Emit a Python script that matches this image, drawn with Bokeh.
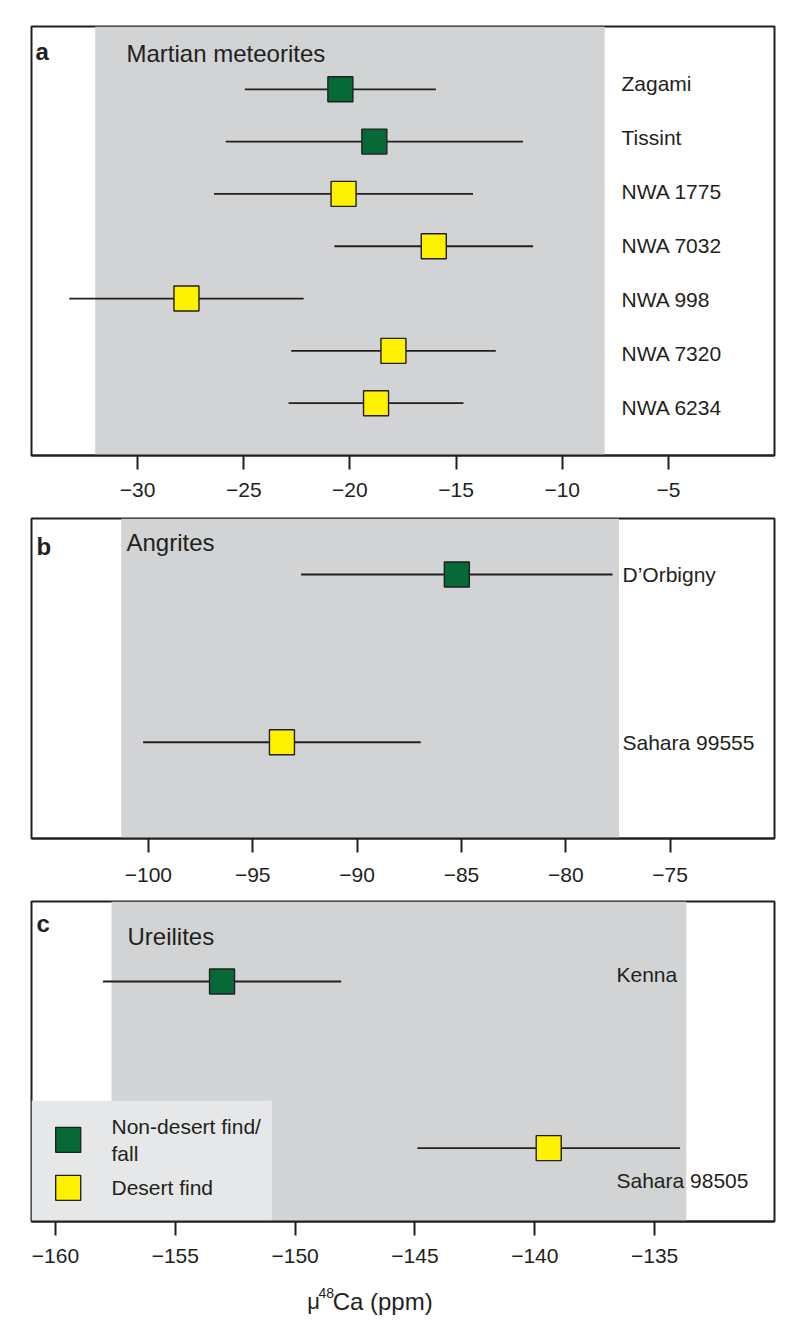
from bokeh.plotting import figure
from bokeh.models import FixedTicker, BoxAnnotation, ColumnDataSource, Range1d
from bokeh.layouts import column
from bokeh.embed import file_html
from bokeh.resources import INLINE
from bokeh.core.properties import value

# ---------------- data ----------------
mars_names = ["Zagami", "Tissint", "NWA 1775", "NWA 7032", "NWA 998", "NWA 7320", "NWA 6234"]
mars_mu = [-20.45, -18.85, -20.3, -16.05, -27.7, -17.95, -18.77]
mars_err = [4.5, 7.0, 6.1, 4.68, 5.52, 4.82, 4.12]
mars_desert = [False, False, True, True, True, True, True]
mars_band = (-32.0, -8.0)
mars_ticks = [-30, -25, -20, -15, -10, -5]

angr_names = ["D\u2019Orbigny", "Sahara 99555"]
angr_mu = [-85.22, -93.6]
angr_err = [7.46, 6.65]
angr_desert = [False, True]
angr_band = (-101.3, -77.45)
angr_ticks = [-100, -95, -90, -85, -80, -75]

ureil_names = ["Kenna", "Sahara 98505"]
ureil_mu = [-153.05, -139.42]
ureil_err = [4.97, 5.48]
ureil_desert = [False, True]
ureil_band = (-157.66, -133.68)
ureil_ticks = [-160, -155, -150, -145, -140, -135]

legend_labels = ["Non-desert find/\nfall", "Desert find"]
panel_titles = ["Martian meteorites", "Angrites", "Ureilites"]
panel_letters = ["a", "b", "c"]
axis_title_parts = ["\u03bc", "48", "Ca (ppm)"]

# ---------------- style ----------------
FONT = "Liberation Sans"
INK = "#231f20"
GREEN = "#076938"
YELLOW = "#fff200"
BAND = "#d1d3d4"
LEGBG = "#e6e7e8"
W = 792


def make_panel(height, top, bottom, xr, yr, ticks, standoff):
    p = figure(width=W, height=height, x_range=xr, y_range=yr,
               output_backend="svg", toolbar_location=None,
               y_axis_location=None,
               min_border_left=31, min_border_right=18,
               min_border_top=top, min_border_bottom=bottom)
    p.xgrid.visible = False
    p.ygrid.visible = False
    p.outline_line_color = INK
    p.outline_line_width = 2
    p.background_fill_color = "white"
    p.border_fill_color = "white"
    ax = p.xaxis[0]
    ax.ticker = FixedTicker(ticks=ticks)
    ax.major_label_overrides = {t: "\u2212" + str(abs(t)) for t in ticks}
    ax.major_tick_out = 14
    ax.major_tick_in = 0
    ax.minor_tick_out = 0
    ax.minor_tick_in = 0
    ax.major_tick_line_width = 2
    ax.major_tick_line_color = INK
    ax.axis_line_width = 2
    ax.axis_line_color = INK
    ax.major_label_text_font = FONT
    ax.major_label_text_font_size = "21px"
    ax.major_label_text_color = INK
    ax.major_label_standoff = standoff
    return p


def draw_band(p, band):
    p.add_layout(BoxAnnotation(left=band[0], right=band[1], fill_color=BAND,
                               fill_alpha=1.0, line_color=None, level="underlay"))


def draw_data(p, names, mu, err, desert):
    n = len(names)
    rows = list(range(n, 0, -1))
    src = ColumnDataSource(dict(
        y=rows, mu=mu,
        lo=[m - e for m, e in zip(mu, err)],
        hi=[m + e for m, e in zip(mu, err)],
        color=[YELLOW if d else GREEN for d in desert],
    ))
    p.segment(x0="lo", x1="hi", y0="y", y1="y", source=src, line_color=INK, line_width=1.8)
    p.scatter(x="mu", y="y", source=src, marker="square", size=25,
              fill_color="color", line_color=INK, line_width=1.4)
    return rows


def add_text(p, x, y, txt, size, x_offset=0, y_offset=0, bold=False, baseline="middle"):
    p.text(x=[x], y=[y], text=[txt], x_offset=x_offset, y_offset=y_offset,
           text_font=value(FONT), text_font_size=size, text_color=INK,
           text_baseline=baseline, text_align="left",
           text_font_style="bold" if bold else "normal")


# ---------------- panel a ----------------
ya = (0.0, 8.2)
xa = (-35.0, 0.0)
pa = make_panel(510, 26, 55, xa, ya, mars_ticks, 13)
draw_band(pa, mars_band)
rows_a = draw_data(pa, mars_names, mars_mu, mars_err, mars_desert)
lab_y_a = [1.0327 * r - 0.124 for r in rows_a]
pa.text(x=[xa[1]] * len(rows_a), y=lab_y_a, text=mars_names, x_offset=-153,
        text_font=value(FONT), text_font_size="21px", text_color=INK,
        text_baseline="middle", text_align="left")
add_text(pa, xa[0], ya[1], panel_titles[0], "24px", x_offset=95, y_offset=27)
add_text(pa, xa[0], ya[1], panel_letters[0], "24px", x_offset=4, y_offset=25, bold=True,
         baseline="alphabetic")

# ---------------- panel b ----------------
yb = (0.426, 2.334)
xb = (-105.6, -70.0)
pb = make_panel(385, 8, 57, xb, yb, angr_ticks, 15)
draw_band(pb, angr_band)
rows_b = draw_data(pb, angr_names, angr_mu, angr_err, angr_desert)
pb.text(x=[xb[1]] * len(rows_b), y=rows_b, text=angr_names, x_offset=-152,
        text_font=value(FONT), text_font_size="21px", text_color=INK,
        text_baseline="middle", text_align="left")
add_text(pb, xb[0], yb[1], panel_titles[1], "24px", x_offset=95, y_offset=24)
add_text(pb, xb[0], yb[1], panel_letters[1], "24px", x_offset=5, y_offset=28, bold=True,
         baseline="alphabetic")

# ---------------- panel c ----------------
yc = (0.56, 2.48)
xc = (-161.0, -130.0)
pc = make_panel(376, 6, 50, xc, yc, ureil_ticks, 13)
draw_band(pc, ureil_band)
# legend background box (over the band, under the marks)
pc.add_layout(BoxAnnotation(left=xc[0], right=-150.97, bottom=yc[0], top=1.284,
                            fill_color=LEGBG, fill_alpha=1.0, line_color=None,
                            level="underlay"))
rows_c = draw_data(pc, ureil_names, ureil_mu, ureil_err, ureil_desert)
lab_dy_c = [-7, 32]
pc.text(x=[xc[1]] * len(rows_c), y=rows_c, text=ureil_names, x_offset=-158,
        y_offset=lab_dy_c,
        text_font=value(FONT), text_font_size="21px", text_color=INK,
        text_baseline="middle", text_align="left")
add_text(pc, xc[0], yc[1], panel_titles[2], "24px", x_offset=96, y_offset=35)
add_text(pc, xc[0], yc[1], panel_letters[2], "24px", x_offset=5, y_offset=22, bold=True,
         baseline="alphabetic")

# legend (manual)
leg_x = -159.47
leg_y = [1.05, 0.762]
pc.scatter(x=[leg_x] * 2, y=leg_y, marker="square", size=25,
           fill_color=[GREEN, YELLOW], line_color=INK, line_width=1.4)
pc.text(x=[xc[0]] * 2, y=leg_y, text=legend_labels, x_offset=80,
        text_font=value(FONT), text_font_size="21px", text_color=INK,
        text_baseline="middle", text_align="left", text_line_height=1.2)

# ---------------- axis title strip ----------------
pt = figure(width=W, height=60, x_range=Range1d(0, W), y_range=Range1d(0, 60),
            output_backend="svg", toolbar_location=None,
            x_axis_location=None, y_axis_location=None,
            min_border=0, min_border_left=0, min_border_right=0,
            min_border_top=0, min_border_bottom=0)
pt.outline_line_color = None
pt.xgrid.visible = False
pt.ygrid.visible = False
pt.text(x=[294], y=[30], text=[axis_title_parts[0]], text_font=value(FONT),
        text_font_size="22px", text_color=INK, text_baseline="alphabetic")
pt.text(x=[306], y=[39], text=[axis_title_parts[1]], text_font=value(FONT),
        text_font_size="14px", text_color=INK, text_baseline="alphabetic")
pt.text(x=[321], y=[30], text=[axis_title_parts[2]], text_font=value(FONT),
        text_font_size="24px", text_color=INK, text_baseline="alphabetic")

layout = column(pa, pb, pc, pt, spacing=0)
open("out.html", "w").write(file_html(layout, INLINE))
